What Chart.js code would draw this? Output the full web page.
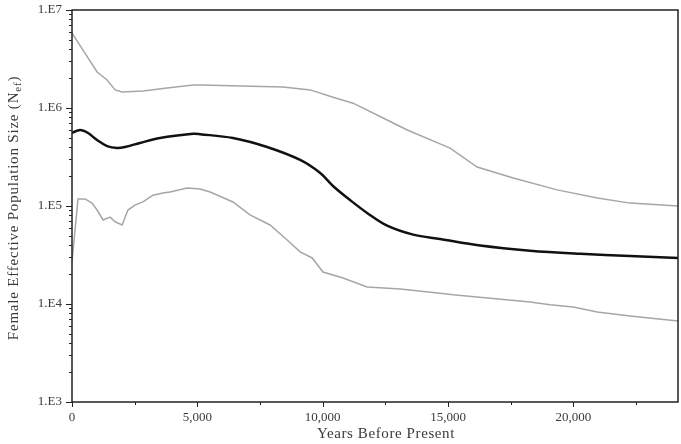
<!DOCTYPE html>
<html>
<head>
<meta charset="utf-8">
<script src="https://cdn.jsdelivr.net/npm/chart.js@4"></script>
<style>
    html, body { margin: 0; padding: 0; background: #fff; }
    #wrap { width: 681px; height: 444px; }
</style>
</head>
<body>
<div id="wrap"><canvas id="chart" width="681" height="444"></canvas></div>
<script>
// Values (years before present, female Ne)
const upperYears  = [0, 440, 1000, 1400, 1720, 2000, 2830, 3790, 4830, 5110, 8420, 9500, 10410, 11210, 12570, 13370, 14680, 15080, 16160, 17600, 19350, 20950, 22260, 24170];
const upperValues = [5.8e6, 3.9e6, 2.33e6, 1.93e6, 1.53e6, 1.46e6, 1.49e6, 1.60e6, 1.72e6, 1.72e6, 1.64e6, 1.53e6, 1.29e6, 1.12e6, 7.55e5, 5.97e5, 4.3e5, 3.9e5, 2.5e5, 1.93e5, 1.46e5, 1.21e5, 1.07e5, 1.0e5];

const meanYears  = [0, 320, 640, 1000, 1400, 1800, 2110, 2710, 3510, 4830, 5110, 6420, 7780, 9100, 9900, 10410, 11090, 11770, 12570, 13610, 14680, 16280, 18270, 20270, 22260, 24170];
const meanValues = [5.56e5, 5.97e5, 5.56e5, 4.71e5, 4.09e5, 3.91e5, 4.0e5, 4.4e5, 4.94e5, 5.45e5, 5.4e5, 4.94e5, 4.0e5, 2.95e5, 2.17e5, 1.6e5, 1.15e5, 8.5e4, 6.3e4, 5.1e4, 4.6e4, 3.95e4, 3.5e4, 3.25e4, 3.08e4, 2.95e4];

const lowerYears  = [0, 240, 520, 800, 1000, 1240, 1520, 1720, 2000, 2230, 2510, 2830, 3230, 3630, 3910, 4590, 5110, 5510, 6420, 7100, 7900, 8580, 9100, 9580, 10010, 10810, 11770, 13090, 14680, 15200, 18270, 19070, 19990, 20950, 22260, 24170];
const lowerValues = [2.7e4, 1.18e5, 1.18e5, 1.07e5, 9.1e4, 7.2e4, 7.7e4, 6.9e4, 6.4e4, 9.1e4, 1.02e5, 1.10e5, 1.29e5, 1.36e5, 1.39e5, 1.53e5, 1.49e5, 1.39e5, 1.10e5, 8.1e4, 6.4e4, 4.5e4, 3.4e4, 2.95e4, 2.12e4, 1.84e4, 1.49e4, 1.42e4, 1.29e4, 1.24e4, 1.05e4, 9.8e3, 9.3e3, 8.3e3, 7.55e3, 6.7e3];

const xTickValues = [0, 2500, 5000, 7500, 10000, 12500, 15000, 17500, 20000, 22500];
const xTickLabels = ['0', '5,000', '10,000', '15,000', '20,000'];
const yTickLabels = ['1.E3', '1.E4', '1.E5', '1.E6', '1.E7'];

const textColor = '#3a3a3a';
const serif = '"Liberation Serif", "DejaVu Serif", serif';

function toPoints(xs, ys) {
    return xs.map((x, i) => ({ x: x, y: ys[i] }));
}

// frame, tick marks and axis titles
const decorations = {
    id: 'decorations',
    afterDraw(chart) {
        const ctx = chart.ctx;
        const area = chart.chartArea;
        const xs = chart.scales.x;
        const ys = chart.scales.y;
        ctx.save();
        ctx.strokeStyle = '#222';
        ctx.lineWidth = 1;

        // y tick marks (major on decades, minor 2..9)
        for (let e = 3; e <= 7; e++) {
            for (let m = 1; m <= 9; m++) {
                if (e === 7 && m > 1) break;
                const v = m * Math.pow(10, e);
                const py = Math.round(ys.getPixelForValue(v)) + 0.5;
                const len = m === 1 ? 6 : 3;
                ctx.beginPath();
                ctx.moveTo(area.left - len, py);
                ctx.lineTo(area.left, py);
                ctx.stroke();
            }
        }
        // x tick marks
        xTickValues.forEach(v => {
            const px = Math.round(xs.getPixelForValue(v)) + 0.5;
            const len = v % 5000 === 0 ? 5 : 3;
            ctx.beginPath();
            ctx.moveTo(px, area.bottom);
            ctx.lineTo(px, area.bottom + len);
            ctx.stroke();
        });

        // frame
        ctx.lineWidth = 1.5;
        ctx.strokeStyle = '#222';
        ctx.strokeRect(area.left, area.top, area.right - area.left, area.bottom - area.top);

        // x axis title
        ctx.fillStyle = textColor;
        ctx.font = '15px ' + serif;
        ctx.letterSpacing = '0.6px';
        ctx.textAlign = 'center';
        ctx.textBaseline = 'middle';
        ctx.fillText('Years Before Present', 386, 434);

        // y axis title with subscript
        ctx.translate(13, 208);
        ctx.rotate(-Math.PI / 2);
        ctx.letterSpacing = '0.8px';
        const main = 'Female Effective Population Size (N';
        const sub = 'ef';
        const tail = ')';
        ctx.font = '15px ' + serif;
        const wMain = ctx.measureText(main).width;
        const wTail = ctx.measureText(tail).width;
        ctx.font = '11px ' + serif;
        const wSub = ctx.measureText(sub).width;
        let x0 = -(wMain + wSub + wTail) / 2;
        ctx.textAlign = 'left';
        ctx.textBaseline = 'alphabetic';
        ctx.font = '15px ' + serif;
        ctx.fillText(main, x0, 5);
        ctx.font = '11px ' + serif;
        ctx.fillText(sub, x0 + wMain, 8);
        ctx.font = '15px ' + serif;
        ctx.fillText(tail, x0 + wMain + wSub, 5);
        ctx.restore();
    }
};

new Chart(document.getElementById('chart').getContext('2d'), {
    type: 'line',
    data: {
        datasets: [
            {
                label: 'Upper',
                data: toPoints(upperYears, upperValues),
                borderColor: '#a6a6a6',
                borderWidth: 1.5,
                pointRadius: 0,
                tension: 0
            },
            {
                label: 'Lower',
                data: toPoints(lowerYears, lowerValues),
                borderColor: '#a6a6a6',
                borderWidth: 1.5,
                pointRadius: 0,
                tension: 0
            },
            {
                label: 'Median',
                data: toPoints(meanYears, meanValues),
                borderColor: '#111',
                borderWidth: 2.5,
                pointRadius: 0,
                tension: 0.35
            }
        ]
    },
    options: {
        responsive: false,
        animation: false,
        layout: { padding: { top: 10, right: 3, left: 0, bottom: 0 } },
        plugins: {
            legend: { display: false },
            tooltip: { enabled: false }
        },
        scales: {
            x: {
                type: 'linear',
                min: 0,
                max: 24170,
                grid: { display: false },
                border: { display: false },
                ticks: {
                    autoSkip: false,
                    maxRotation: 0,
                    padding: 0,
                    color: textColor,
                    font: { family: serif, size: 13 },
                    callback: function(value) {
                        if (value % 5000 === 0) { return xTickLabels[value / 5000]; }
                        return '';
                    }
                },
                afterBuildTicks: function(scale) {
                    scale.ticks = xTickValues.map(v => ({ value: v }));
                },
                afterFit: function(scale) { scale.height = 42; }
            },
            y: {
                type: 'logarithmic',
                min: 1000,
                max: 1e7,
                grid: { display: false },
                border: { display: false },
                ticks: {
                    autoSkip: false,
                    padding: 2,
                    color: textColor,
                    font: { family: serif, size: 13 },
                    callback: function(value) {
                        const e = Math.log10(value);
                        if (Math.abs(e - Math.round(e)) < 1e-9) { return yTickLabels[Math.round(e) - 3]; }
                        return '';
                    }
                },
                afterFit: function(scale) { scale.width = 72; }
            }
        }
    },
    plugins: [decorations]
});
</script>
</body>
</html>
